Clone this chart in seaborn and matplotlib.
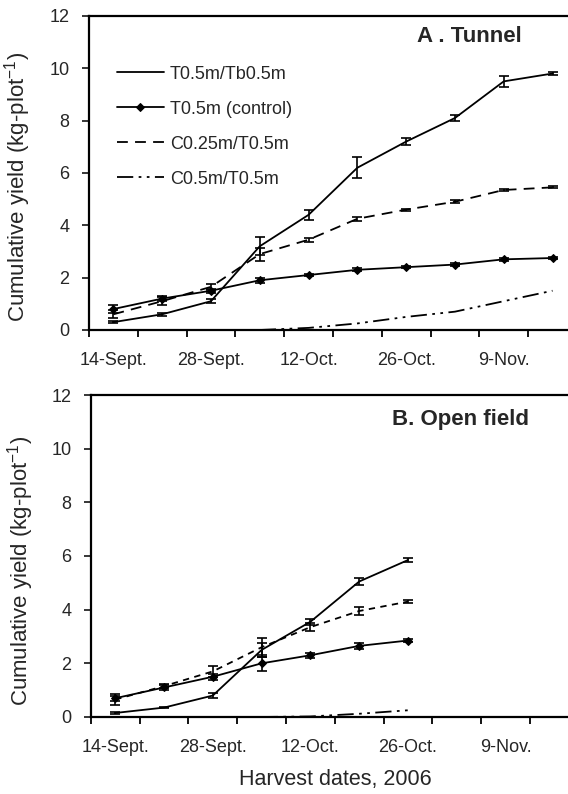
import numpy as np
import pandas as pd
import matplotlib
matplotlib.use("Agg")
import matplotlib.pyplot as plt
import seaborn as sns

sns.set_style("ticks")
plt.rcParams['font.family'] = ['Liberation Sans', 'DejaVu Sans']
plt.rcParams['mathtext.fontset'] = 'custom'
plt.rcParams['mathtext.rm'] = 'Liberation Sans'

# harvest dates (weekly), labels shown every other week
dates = ['14-Sept.', '21-Sept.', '28-Sept.', '5-Oct.', '12-Oct.', '19-Oct.',
         '26-Oct.', '2-Nov.', '9-Nov.', '16-Nov.']
series_names = ['T0.5m/Tb0.5m', 'T0.5m (control)', 'C0.25m/T0.5m', 'C0.5m/T0.5m']

# A. Tunnel
tun_t_tb = [0.3, 0.6, 1.1, 3.2, 4.4, 6.2, 7.2, 8.1, 9.5, 9.8]
tun_t_tb_err = [0.05, 0.05, 0.08, 0.35, 0.2, 0.4, 0.15, 0.1, 0.2, 0.05]
tun_ctrl = [0.8, 1.2, 1.5, 1.9, 2.1, 2.3, 2.4, 2.5, 2.7, 2.75]
tun_ctrl_err = [0.15, 0.08, 0.08, 0.1, 0.05, 0.05, 0.05, 0.05, 0.05, 0.05]
tun_c025 = [0.6, 1.1, 1.65, 2.9, 3.45, 4.25, 4.6, 4.9, 5.35, 5.45]
tun_c025_err = [0.15, 0.15, 0.12, 0.25, 0.08, 0.07, 0.04, 0.05, 0.04, 0.04]
tun_c05 = [None, None, None, 0.0, 0.08, 0.25, 0.5, 0.7, 1.1, 1.5]

# B. Open field
opn_t_tb = [0.15, 0.35, 0.8, 2.5, 3.55, 5.05, 5.85]
opn_t_tb_err = [0.05, 0.03, 0.1, 0.25, 0.12, 0.12, 0.08]
opn_ctrl = [0.7, 1.1, 1.5, 2.0, 2.3, 2.65, 2.85]
opn_ctrl_err = [0.1, 0.08, 0.12, 0.3, 0.1, 0.12, 0.06]
opn_c025 = [0.65, 1.15, 1.7, 2.6, 3.35, 3.95, 4.3]
opn_c025_err = [0.2, 0.08, 0.2, 0.35, 0.15, 0.15, 0.07]
opn_c05 = [None, None, None, 0.0, 0.02, 0.12, 0.25]

dash_dot_dot = (0, (9, 3, 1.5, 3, 1.5, 3))


def draw(ax, vals, errs, ls, marker, label):
    x = [i for i, v in enumerate(vals) if v is not None]
    y = [v for v in vals if v is not None]
    df = pd.DataFrame({"x": x, "y": y})
    sns.lineplot(data=df, x="x", y="y", ax=ax, color="black", lw=1.3,
                 linestyle=ls, marker=marker, markersize=4.5, mec="black",
                 mfc="black", label=label, errorbar=None)
    if errs is not None:
        ax.errorbar(x, y, yerr=errs, fmt="none", ecolor="black",
                    elinewidth=1.2, capsize=3.5, capthick=1.2)


def style_axes(ax):
    ax.set_xlim(-0.5, 9.5)
    ax.set_ylim(0, 12)
    ax.set_yticks(range(0, 13, 2))
    ax.set_xticks(np.arange(-0.5, 10, 1))
    ax.set_xticklabels([])
    ax.set_xticks(range(0, 10, 2), minor=True)
    ax.set_xticklabels([dates[i] for i in range(0, 10, 2)], minor=True)
    ax.tick_params(axis="x", which="major", direction="out", length=5,
                   width=1.3, color="black")
    ax.tick_params(axis="x", which="minor", length=0, pad=16, labelsize=13)
    ax.tick_params(axis="y", direction="out", length=5, width=1.3, pad=9,
                   labelsize=13)
    for s in ax.spines.values():
        s.set_linewidth(1.6)
        s.set_color("black")
    ax.set_xlabel("")
    ax.set_ylabel(r'Cumulative yield (kg-plot$^{\mathregular{-1}}$)',
                  fontsize=16)
    ax.yaxis.set_label_coords(-0.115, 0.455)


fig = plt.figure(figsize=(5.68, 7.94), dpi=100)
ax1 = fig.add_axes([0.1567, 0.5844, 0.859, 0.3955])
ax2 = fig.add_axes([0.160, 0.097, 0.859, 0.4055])

draw(ax1, tun_t_tb, tun_t_tb_err, "-", None, series_names[0])
draw(ax1, tun_ctrl, tun_ctrl_err, "-", "D", series_names[1])
draw(ax1, tun_c025, tun_c025_err, (0, (6, 4)), None, series_names[2])
draw(ax1, tun_c05, None, dash_dot_dot, None, series_names[3])

draw(ax2, opn_t_tb, opn_t_tb_err, "-", None, None)
draw(ax2, opn_ctrl, opn_ctrl_err, "-", "D", None)
draw(ax2, opn_c025, opn_c025_err, (0, (3.5, 3)), None, None)
draw(ax2, opn_c05, None, dash_dot_dot, None, None)

style_axes(ax1)
style_axes(ax2)
ax2.yaxis.set_label_coords(-0.112, 0.453)
ax2.set_xlabel("Harvest dates, 2006", fontsize=15.5, labelpad=9)

ax1.text(0.887, 0.933, "A . Tunnel", transform=ax1.transAxes, ha="right",
         va="center", fontsize=16, fontweight="bold")
ax2.text(0.898, 0.925, "B. Open field", transform=ax2.transAxes, ha="right",
         va="center", fontsize=16, fontweight="bold")

leg = ax1.legend(loc="upper left", bbox_to_anchor=(0.057, 0.842),
                 frameon=False, fontsize=13, handlelength=2.6,
                 handletextpad=0.35, labelspacing=1.0, borderpad=0,
                 borderaxespad=0)
if ax2.get_legend() is not None:
    ax2.get_legend().remove()

fig.savefig("out.png", dpi=100)
